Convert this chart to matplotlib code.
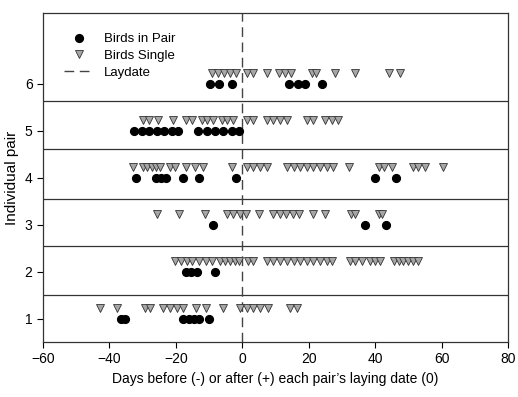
import numpy as np
import matplotlib
matplotlib.use("Agg")
import matplotlib.pyplot as plt

plt.rcParams['font.family'] = ['Liberation Sans', 'DejaVu Sans']

# Days relative to each pair's laying date, per individual pair (1..6)
pair_days = {
    1: [-36.5, -35.3, -17.8, -16.2, -14.7, -12.9, -9.9],
    2: [-16.9, -15.4, -13.7, -8.2],
    3: [-8.9, 37.0, 43.3],
    4: [-32.0, -26.0, -24.6, -23.0, -17.9, -12.9, -2.0, 40.0, 46.2],
    5: [-32.6, -30.3, -28.0, -25.8, -23.5, -21.2, -19.3,
        -13.2, -10.7, -8.2, -5.7, -3.2, -0.9],
    6: [-9.7, -6.9, -3.2, 13.9, 16.6, 18.9, 24.1],
}

single_days = {
    1: [-42.8, -37.8, -29.3, -27.8, -23.8, -21.8, -19.7, -17.8, -13.9, -11.0,
        -5.9, -0.7, 1.3, 3.3, 5.3, 7.8, 14.2, 16.4],
    2: [-20.3, -18.5, -16.7, -15.2, -13.0, -11.0, -9.0, -6.7, -5.2, -3.7,
        -2.2, -0.9, 1.8, 3.3, 7.4, 9.3, 11.4, 13.4, 15.4, 17.4, 19.4, 21.4,
        23.4, 25.4, 26.9, 32.4, 33.9, 36.0, 38.5, 40.0, 41.5, 45.5, 47.0,
        48.5, 50.0, 51.5, 53.0],
    3: [-25.8, -19.0, -11.2, -4.7, -2.7, -0.7, 1.1, 5.1, 9.3, 11.4, 13.2,
        15.1, 17.1, 21.4, 24.9, 32.7, 33.9, 41.0, 42.0],
    4: [-33.0, -29.8, -28.6, -27.3, -26.0, -24.8, -21.8, -20.3, -16.9, -14.2,
        -11.9, -3.0, 1.3, 3.3, 5.3, 7.4, 13.4, 15.4, 17.4, 19.4, 21.4, 23.4,
        25.4, 27.2, 32.2, 41.0, 42.5, 45.0, 51.3, 53.0, 55.0, 60.4],
    5: [-29.8, -28.0, -25.3, -20.8, -16.9, -15.2, -12.2, -10.7, -8.9, -6.2,
        -4.7, -2.9, 1.3, 3.1, 7.4, 9.3, 11.4, 13.4, 19.4, 21.4, 24.9, 26.9, 28.9],
    6: [-9.0, -7.2, -5.4, -3.7, -2.0, 1.5, 3.3, 7.4, 11.1, 12.9, 14.7, 21.1,
        22.2, 27.9, 33.9, 44.0, 47.5],
}

separators = [1.5, 2.55, 3.55, 4.6, 5.62]
single_offset = 0.22

fig = plt.figure(figsize=(5.18, 3.97), dpi=100)
ax = fig.add_axes([0.083, 0.1385, 0.898, 0.8285])

for y in separators:
    ax.axhline(y, color='#333333', linewidth=0.9, zorder=1)

ax.axvline(0, color='#444444', linewidth=1.0, linestyle=(0, (7, 4)), zorder=1,
           label='Laydate')

first = True
for pair, days in pair_days.items():
    ax.plot(days, np.full(len(days), pair), linestyle='None', marker='o',
            markersize=5.6, color='black', zorder=3,
            label='Birds in Pair' if first else None)
    first = False

first = True
for pair, days in single_days.items():
    ax.plot(days, np.full(len(days), pair + single_offset), linestyle='None',
            marker='v', markersize=5.6, markerfacecolor='#a6a6a6',
            markeredgecolor='#333333', markeredgewidth=0.6, zorder=3,
            label='Birds Single' if first else None)
    first = False

ax.set_xlim(-60, 80)
ax.set_ylim(0.5, 7.5)
ax.set_xticks(np.arange(-60, 81, 20))
ax.set_yticks([1, 2, 3, 4, 5, 6])
ax.tick_params(direction='out', length=4, labelsize=10, top=False, right=False)
ax.set_xlabel("Days before (-) or after (+) each pair\u2019s laying date (0)", fontsize=10)
ax.set_ylabel("Individual pair", fontsize=11)
for s in ax.spines.values():
    s.set_color('#333333')
    s.set_linewidth(0.9)

handles, labels = ax.get_legend_handles_labels()
order = [labels.index('Birds in Pair'), labels.index('Birds Single'), labels.index('Laydate')]
ax.legend([handles[i] for i in order], [labels[i] for i in order],
          loc='upper left', bbox_to_anchor=(0.02, 0.975), frameon=False,
          fontsize=9.5, handlelength=2.2, labelspacing=0.33, borderaxespad=0.5)

fig.savefig("out.png", dpi=100)
